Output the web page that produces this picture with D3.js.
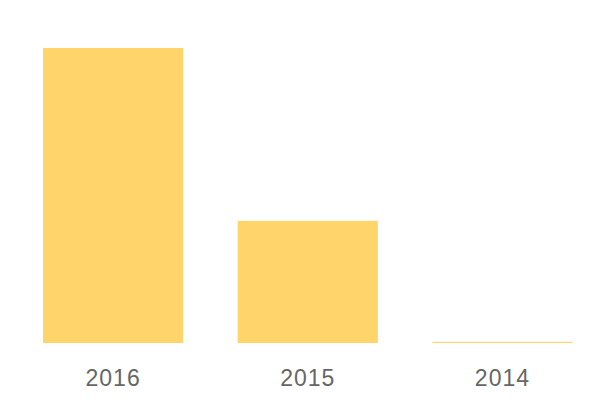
<!DOCTYPE html>
<html>
<head>
<meta charset="utf-8">
<script src="https://cdn.jsdelivr.net/npm/d3@7"></script>
<style>
  body { margin: 0; background: #fff; }
</style>
</head>
<body>
<div id="chart"></div>
<script>
// data
var years = ["2016", "2015", "2014"];
var values = [1000, 414, 4];

var width = 600, height = 400;
var margin = {top: 48, bottom: 343};

var svg = d3.select("#chart")
  .append("svg")
    .attr("width", width)
    .attr("height", height);

var x = d3.scaleBand()
    .domain(years)
    .range([43, 572.5])
    .paddingInner(0.28)
    .paddingOuter(0);

var y = d3.scaleLinear()
    .domain([0, d3.max(values)])
    .range([margin.bottom, margin.top]);

var data = years.map(function(d, i) { return {year: d, value: values[i]}; });

svg.append("g")
  .selectAll("rect")
  .data(data)
  .enter()
  .append("rect")
    .attr("x", function(d) { return x(d.year); })
    .attr("y", function(d) { return y(d.value); })
    .attr("width", x.bandwidth())
    .attr("height", function(d) { return margin.bottom - y(d.value); })
    .style("fill", "#FFD46B");

// year labels under the bars
var xAxis = svg.append("g")
    .attr("transform", "translate(0," + margin.bottom + ")")
    .call(d3.axisBottom(x).tickSize(0).tickPadding(27));

xAxis.select(".domain").remove();
xAxis.selectAll("text")
    .style("font-family", "'Liberation Sans', Arial, sans-serif")
    .style("font-size", "23px")
    .style("letter-spacing", "1px")
    .style("fill", "#666");
</script>
</body>
</html>
